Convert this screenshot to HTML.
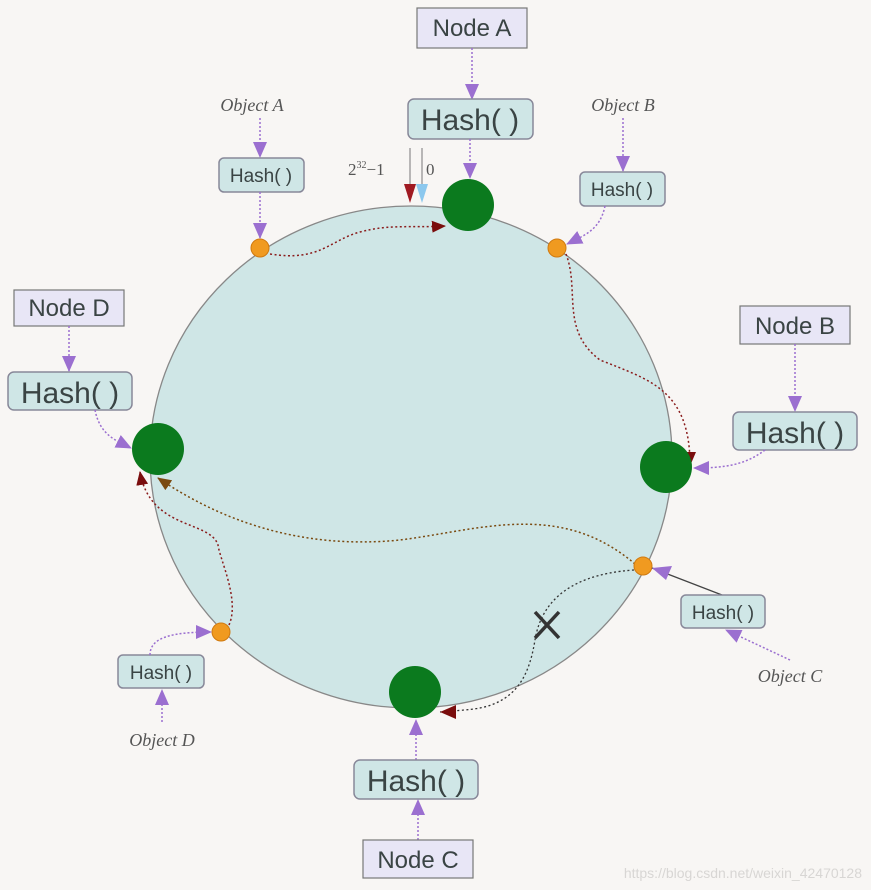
<!DOCTYPE html>
<html><head><meta charset="utf-8"><style>
html,body{margin:0;padding:0;background:#f8f6f4}
svg{display:block}
text{font-family:"Liberation Sans",sans-serif;fill:#3a4444}
.it{font-family:"Liberation Serif",serif;font-style:italic;fill:#555}
.nb{fill:#e8e6f6;stroke:#777;stroke-width:1.2}
.hb{fill:#cfe6e6;stroke:#889;stroke-width:1.5}
.pa{stroke:#9b6fd0;stroke-width:1.5;stroke-dasharray:2 2;fill:none}
.rd{stroke:#8a1c1c;stroke-width:1.5;stroke-dasharray:2 2.5;fill:none}
.bd{stroke:#333;stroke-width:1.3;stroke-dasharray:2 2.5;fill:none}
</style></head><body>
<svg width="871" height="890" viewBox="0 0 871 890">
<defs>
<marker id="pu" markerWidth="10" markerHeight="10" refX="9" refY="5" orient="auto" markerUnits="userSpaceOnUse"><path d="M0,0 L10,5 L0,10z" fill="#9b6fd0"/></marker>
<marker id="pb" markerWidth="16" markerHeight="14" refX="15" refY="7" orient="auto" markerUnits="userSpaceOnUse"><path d="M0,0 L16,7 L0,14z" fill="#9b6fd0"/></marker>
<marker id="rm" markerWidth="14" markerHeight="12" refX="13" refY="6" orient="auto" markerUnits="userSpaceOnUse"><path d="M0,0 L14,6 L0,12z" fill="#7a0d0d"/></marker>
<marker id="bm" markerWidth="14" markerHeight="12" refX="13" refY="6" orient="auto" markerUnits="userSpaceOnUse"><path d="M0,0 L14,6 L0,12z" fill="#7a4a10"/></marker>
</defs>
<ellipse cx="411" cy="457" rx="261" ry="251" fill="#cfe6e6" stroke="#888" stroke-width="1.3"/>
<!-- 0 markers -->
<line x1="410" y1="148" x2="410" y2="198" stroke="#777"/>
<line x1="422" y1="148" x2="422" y2="198" stroke="#777"/>
<path d="M404,184 L416,184 L410,203z" fill="#a01a22"/>
<path d="M416,184 L428,184 L422,203z" fill="#8cc8ee"/>
<text x="348" y="175" class="it" style="font-style:normal;font-size:17px">2<tspan dy="-7" font-size="10">32</tspan><tspan dy="7">−1</tspan></text>
<text x="426" y="175" class="it" style="font-style:normal;font-size:17px">0</text>
<!-- red/dotted arcs -->
<path class="rd" d="M270,254 C320,262 330,240 360,232 C390,224 410,228 445,226" marker-end="url(#rm)"/>
<path class="rd" d="M566,254 C580,290 560,330 600,360 C650,380 690,390 690,465" marker-end="url(#rm)"/>
<path class="rd" d="M229,625 C240,600 220,560 218,545 C210,520 150,530 140,472" marker-end="url(#rm)"/>
<path d="M635,564 C560,500 480,530 400,540 C300,550 220,520 158,478" fill="none" stroke="#7a4a10" stroke-width="1.5" stroke-dasharray="2 2.5" marker-end="url(#bm)"/>
<path class="bd" d="M634,570 C560,575 540,610 535,640 C530,670 520,700 480,708 C470,710 450,711 440,712"/>
<path d="M440,712 L456,705 L456,719z" fill="#7a0d0d"/>
<!-- X -->
<path d="M535,612 L559,638 M559,612 L535,638" stroke="#333" stroke-width="3.5"/>
<!-- green nodes -->
<circle cx="468" cy="205" r="26" fill="#0b7a1e"/>
<circle cx="666" cy="467" r="26" fill="#0b7a1e"/>
<circle cx="158" cy="449" r="26" fill="#0b7a1e"/>
<circle cx="415" cy="692" r="26" fill="#0b7a1e"/>
<!-- orange dots -->
<g fill="#f09a20" stroke="#d07a10"><circle cx="260" cy="248" r="9"/><circle cx="557" cy="248" r="9"/><circle cx="643" cy="566" r="9"/><circle cx="221" cy="632" r="9"/></g>
<!-- Node A -->
<rect class="nb" x="417" y="8" width="110" height="40"/><text x="472" y="36" font-size="24" text-anchor="middle">Node A</text>
<path class="pa" d="M472,48 L472,99" marker-end="url(#pb)"/>
<rect class="hb" x="408" y="99" width="125" height="40" rx="6"/><text x="470" y="130" font-size="30" text-anchor="middle">Hash( )</text>
<path class="pa" d="M470,139 L470,178" marker-end="url(#pb)"/>
<!-- Object A -->
<text x="252" y="111" class="it" font-size="18" text-anchor="middle">Object A</text>
<path class="pa" d="M260,118 L260,157" marker-end="url(#pb)"/>
<rect class="hb" x="219" y="158" width="85" height="34" rx="5"/><text x="261" y="182" font-size="19" text-anchor="middle">Hash( )</text>
<path class="pa" d="M260,192 L260,238" marker-end="url(#pb)"/>
<!-- Object B -->
<text x="623" y="111" class="it" font-size="18" text-anchor="middle">Object B</text>
<path class="pa" d="M623,118 L623,171" marker-end="url(#pb)"/>
<rect class="hb" x="580" y="172" width="85" height="34" rx="5"/><text x="622" y="196" font-size="19" text-anchor="middle">Hash( )</text>
<path class="pa" d="M605,206 C600,230 585,235 567,244" marker-end="url(#pb)"/>
<!-- Node D -->
<rect class="nb" x="14" y="290" width="110" height="36"/><text x="69" y="316" font-size="24" text-anchor="middle">Node D</text>
<path class="pa" d="M69,326 L69,371" marker-end="url(#pb)"/>
<rect class="hb" x="8" y="372" width="124" height="38" rx="6"/><text x="70" y="403" font-size="30" text-anchor="middle">Hash( )</text>
<path class="pa" d="M95,410 C100,435 115,440 131,448" marker-end="url(#pb)"/>
<!-- Node B -->
<rect class="nb" x="740" y="306" width="110" height="38"/><text x="795" y="334" font-size="24" text-anchor="middle">Node B</text>
<path class="pa" d="M795,344 L795,411" marker-end="url(#pb)"/>
<rect class="hb" x="733" y="412" width="124" height="38" rx="6"/><text x="795" y="443" font-size="30" text-anchor="middle">Hash( )</text>
<path class="pa" d="M765,450 C745,465 725,468 694,468" marker-end="url(#pb)"/>
<!-- Object C -->
<line x1="722" y1="595" x2="652" y2="568" stroke="#444" stroke-width="1.3"/>
<path d="M652,568 L672,566 L666,580z" fill="#9b6fd0"/>
<rect class="hb" x="681" y="595" width="84" height="33" rx="5"/><text x="723" y="619" font-size="19" text-anchor="middle">Hash( )</text>
<path class="pa" d="M790,660 L726,630" marker-end="url(#pb)"/>
<text x="790" y="682" class="it" font-size="18" text-anchor="middle">Object C</text>
<!-- Object D -->
<rect class="hb" x="118" y="655" width="86" height="33" rx="5"/><text x="161" y="679" font-size="19" text-anchor="middle">Hash( )</text>
<path class="pa" d="M150,655 C150,638 170,632 211,632" marker-end="url(#pb)"/>
<path class="pa" d="M162,722 L162,690" marker-end="url(#pb)"/>
<text x="162" y="746" class="it" font-size="18" text-anchor="middle">Object D</text>
<!-- Node C -->
<path class="pa" d="M416,760 L416,720" marker-end="url(#pb)"/>
<rect class="hb" x="354" y="760" width="124" height="39" rx="6"/><text x="416" y="791" font-size="30" text-anchor="middle">Hash( )</text>
<path class="pa" d="M418,840 L418,800" marker-end="url(#pb)"/>
<rect class="nb" x="363" y="840" width="110" height="38"/><text x="418" y="868" font-size="24" text-anchor="middle">Node C</text>
<text x="862" y="878" font-size="14" text-anchor="end" style="fill:#d8d6d4">https://blog.csdn.net/weixin_42470128</text>
</svg>
</body></html>
